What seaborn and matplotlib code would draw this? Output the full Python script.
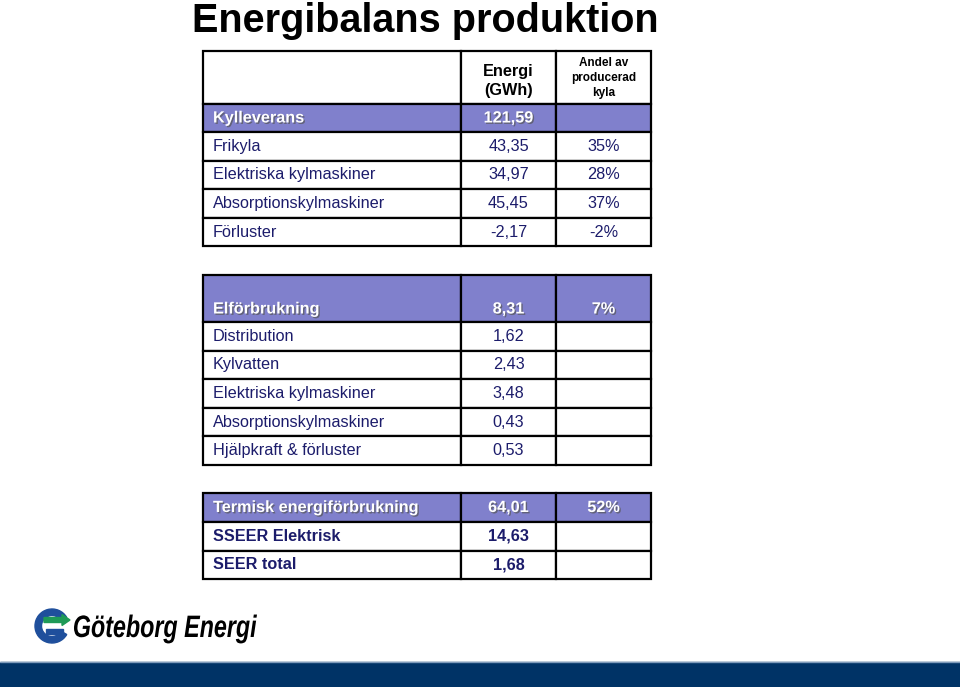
import matplotlib
matplotlib.use("Agg")
import matplotlib.pyplot as plt
import matplotlib.patches as mpatches
import matplotlib.patheffects as pe
from matplotlib.textpath import TextPath
from matplotlib.font_manager import FontProperties
from matplotlib.transforms import Affine2D
import seaborn as sns

# ---- data ----
kyla_header = ["Energi\n(GWh)", "Andel av\nproducerad\nkyla"]
kylleverans = 121.59
kyla_labels = ["Frikyla", "Elektriska kylmaskiner", "Absorptionskylmaskiner", "Förluster"]
kyla_energi = [43.35, 34.97, 45.45, -2.17]
kyla_andel = [35, 28, 37, -2]

el_total = 8.31
el_andel = 7
el_labels = ["Distribution", "Kylvatten", "Elektriska kylmaskiner",
             "Absorptionskylmaskiner", "Hjälpkraft & förluster"]
el_energi = [1.62, 2.43, 3.48, 0.43, 0.53]

termisk = 64.01
termisk_andel = 52
seer_labels = ["SSEER Elektrisk", "SEER total"]
seer_values = [14.63, 1.68]

sns.set_theme(style="white")
plt.rcParams['font.family'] = ['Liberation Sans', 'DejaVu Sans']

PURPLE = "#8080cc"
NAVY = "#1c1c6b"
cols = [203, 461, 556, 651]
ROW_H = 28.6


def fmt(v):
    return f"{v:.2f}".replace(".", ",")


fig = plt.figure(figsize=(9.6, 6.87), dpi=100)
ax = fig.add_axes([0, 0, 1, 1])
ax.set_xlim(0, 960)
ax.set_ylim(687, 0)
ax.axis("off")

shadow = [pe.withSimplePatchShadow(offset=(1, -1), shadow_rgbFace="#555555", alpha=0.7)]


def row(y0, h, texts, fill=None, color=NAVY, bold=False, white=False, text_y=None):
    for i in range(3):
        ax.add_patch(mpatches.Rectangle((cols[i], y0), cols[i + 1] - cols[i], h,
                                        facecolor=fill if fill else "white",
                                        edgecolor="black", lw=1.6))
    ty = y0 + h / 2 if text_y is None else text_y
    for i, t in enumerate(texts):
        if t is None:
            continue
        kw = dict(fontsize=11.7, va="center", fontweight="bold" if bold else "normal",
                  color="white" if white else color)
        if white:
            kw["path_effects"] = shadow
        if i == 0:
            ax.text(cols[0] + 10, ty, t, ha="left", **kw)
        else:
            ax.text((cols[i] + cols[i + 1]) / 2, ty, t, ha="center", **kw)


# title
ax.text(192, 32, "Energibalans produktion", fontsize=28.5, fontweight="bold",
        color="black", va="baseline", ha="left")

# table 1
y = 51
row(y, 53, [None, None, None])
ax.text((cols[1] + cols[2]) / 2, 81, kyla_header[0], ha="center", va="center",
        fontsize=11.7, fontweight="bold", color="black", linespacing=1.35)
ax.text((cols[2] + cols[3]) / 2, 78, kyla_header[1], ha="center", va="center",
        fontsize=8.5, fontweight="bold", color="black", linespacing=1.35)
y += 53
row(y, 28, ["Kylleverans", fmt(kylleverans), None], fill=PURPLE, bold=True, white=True)
y += 28
for lab, e, a in zip(kyla_labels, kyla_energi, kyla_andel):
    row(y, ROW_H, [lab, fmt(e), f"{a}%"])
    y += ROW_H

# table 2
y = 275
row(y, 47, ["Elförbrukning", fmt(el_total), f"{el_andel}%"], fill=PURPLE,
    bold=True, white=True, text_y=y + 34)
y += 47
for lab, e in zip(el_labels, el_energi):
    row(y, ROW_H, [lab, fmt(e), None])
    y += ROW_H

# table 3
y = 493
row(y, 29, ["Termisk energiförbrukning", fmt(termisk), f"{termisk_andel}%"],
    fill=PURPLE, bold=True, white=True)
y += 29
for lab, v in zip(seer_labels, seer_values):
    row(y, ROW_H, [lab, fmt(v), None], bold=True)
    y += ROW_H

# logo
ax.add_patch(mpatches.Wedge((52, 626), 17, 30, 330, width=6.5, color="#1f4f9c"))
ax.add_patch(mpatches.Rectangle((46, 629), 17, 5, color="#1f4f9c"))
ax.add_patch(mpatches.FancyArrow(44, 620, 26, 0, width=5, head_width=11,
                                 head_length=8, color="#1e9a57", length_includes_head=True))
logo_font = FontProperties(family="Liberation Sans", weight="bold", style="italic")
tp = TextPath((0, 0), "Göteborg Energi", size=31, prop=logo_font)
ext = tp.get_extents()
sx = 183 / ext.width
tp = tp.transformed(Affine2D().translate(-ext.x0, 0).scale(sx, -1).translate(74, 637))
ax.add_patch(mpatches.PathPatch(tp, facecolor="black", lw=0))

# bottom band
ax.add_patch(mpatches.Rectangle((0, 662), 960, 25, color="#003366"))
ax.plot([0, 960], [661.5, 661.5], color="#7f9bbb", lw=1)

fig.savefig("out.png", dpi=100)
